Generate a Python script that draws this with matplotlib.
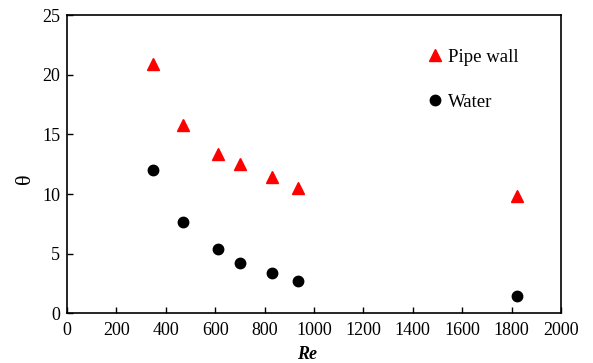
import matplotlib
matplotlib.use("Agg")
import matplotlib.pyplot as plt

re_vals = [350, 470, 610, 700, 830, 935, 1820]
pipe_wall = [20.9, 15.8, 13.4, 12.5, 11.4, 10.5, 9.8]
water = [12.0, 7.65, 5.4, 4.2, 3.35, 2.7, 1.45]

plt.rcParams['font.family'] = ['Liberation Serif', 'DejaVu Serif']

fig = plt.figure(figsize=(5.93, 3.63), dpi=100)
ax = fig.add_axes([0.113, 0.137, 0.833, 0.821])

ax.plot(re_vals, pipe_wall, linestyle='none', marker='^', color='#ff0000', markersize=8.5, label='Pipe wall')
ax.plot(re_vals, water, linestyle='none', marker='o', color='black', markersize=7.5, label='Water')

ax.set_xlim(0, 2000)
ax.set_ylim(0, 25)
ax.set_xticks(range(0, 2001, 200))
ax.set_yticks(range(0, 26, 5))
ax.tick_params(direction='in', length=4.5, width=1, labelsize=13, top=False, right=False)
ax.tick_params(axis='x', pad=6)
ax.tick_params(axis='y', pad=5)
for s in ax.spines.values():
    s.set_linewidth(1.2)

ax.set_xlabel('Re', fontsize=13, fontweight='bold', fontstyle='italic', va='center')
ax.xaxis.set_label_coords(0.486, -0.14)
ax.set_ylabel('θ', fontsize=16, va='center')
ax.yaxis.set_label_coords(-0.084, 0.45)

ax.legend(loc='upper left', bbox_to_anchor=(0.725, 0.888), frameon=False, fontsize=13.5,
          handletextpad=0.2, labelspacing=1.5, handlelength=1.0, borderpad=0, borderaxespad=0)

fig.savefig('out.png', dpi=100)
